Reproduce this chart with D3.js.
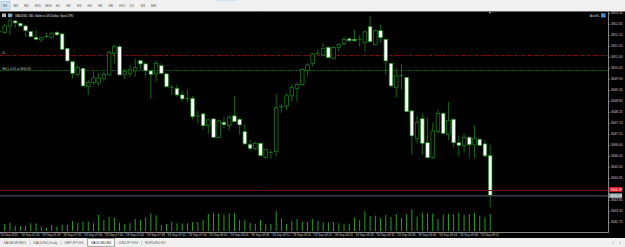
<!DOCTYPE html>
<html><head><meta charset="utf-8">
<script src="https://cdn.jsdelivr.net/npm/d3@7"></script>
<style>
html,body{margin:0;padding:0;background:#000;overflow:hidden;}
svg{display:block;font-family:"Liberation Sans",Arial,sans-serif;}
</style></head><body>
<svg id="c" width="625" height="247"></svg>
<script>
// ---------- DATA ----------
const symbolTitle = "XAUUSD, M1: Gold vs US Dollar, Spot CFD";
const timeframes = ["M1","M3","M5","M15","M30","H1","H2","H3","H4","H6","H8","H12","D1","W1","MN"];
const activeTimeframe = "M1";
const tabs = ["XAUEUR,M15","XAUUSD,Daily","GBPJPY,H1","XAUUSD,M1","USDJPY,H4","EURUSD,H1"];
const activeTab = "XAUUSD,M1";
const times = ["07:19","07:20","07:21","07:22","07:23","07:24","07:25","07:26","07:27","07:28","07:29",
"07:30","07:31","07:32","07:33","07:34","07:35","07:36","07:37","07:38","07:39",
"07:40","07:41","07:42","07:43","07:44","07:45","07:46","07:47","07:48","07:49",
"07:50","07:51","07:52","07:53","07:54","07:55","07:56","07:57","07:58","07:59",
"08:00","08:01","08:02","08:03","08:04","08:05","08:06","08:07","08:08","08:09",
"08:10","08:11","08:12","08:13","08:14","08:15","08:16","08:17","08:18","08:19",
"08:20","08:21","08:22","08:23","08:24","08:25","08:26","08:27","08:28","08:29",
"08:30","08:31","08:32","08:33","08:34","08:35","08:36","08:37","08:38","08:39",
"08:40","08:41","08:42","08:43","08:44","08:45","08:46","08:47","08:48","08:49",
"08:50","08:51","08:52","08:53"];
const opens = [3652.28,3652.23,3652.57,3652.82,3652.70,3652.57,3652.29,3652.00,3651.87,3652.03,
3652.00,3652.25,3652.17,3651.45,3650.78,3650.15,3650.45,3649.53,3649.73,3649.72,
3649.95,3650.12,3651.20,3651.53,3650.15,3650.20,3650.32,3650.83,3650.67,3650.32,
3650.17,3650.58,3650.17,3649.48,3649.45,3649.12,3648.95,3648.95,3648.07,3648.17,
3647.58,3647.92,3646.98,3647.75,3647.58,3648.07,3647.90,3647.28,3646.65,3646.45,
3646.70,3646.00,3646.25,3646.28,3648.53,3648.57,3649.07,3649.45,3649.65,3650.33,
3650.70,3651.20,3651.12,3651.50,3650.95,3651.50,3651.70,3651.92,3651.90,3651.90,
3651.75,3652.53,3651.65,3652.33,3651.90,3650.70,3649.50,3650.10,3650.00,3648.32,
3646.95,3647.93,3646.73,3646.00,3647.28,3648.20,3647.15,3647.90,3646.73,3646.60,
3647.00,3646.62,3646.90,3646.67,3646.08];
const highs = [3652.37,3652.67,3653.00,3652.87,3652.73,3652.59,3652.32,3652.37,3652.03,3652.23,
3652.28,3652.30,3652.19,3651.47,3650.82,3650.62,3650.47,3649.87,3650.32,3650.20,
3650.28,3651.32,3651.62,3651.62,3650.42,3650.62,3650.92,3650.87,3650.70,3650.37,
3650.82,3650.70,3650.20,3649.62,3649.62,3649.33,3649.40,3649.07,3648.32,3648.20,
3647.90,3647.95,3647.87,3648.03,3648.12,3649.07,3647.98,3647.67,3646.87,3646.78,
3646.73,3646.45,3646.37,3649.17,3648.67,3649.20,3649.65,3649.73,3650.45,3650.70,
3651.23,3651.42,3651.70,3651.53,3651.57,3651.70,3652.03,3652.00,3652.37,3652.12,
3652.33,3653.07,3652.37,3652.62,3651.92,3650.73,3650.45,3650.67,3650.02,3648.33,
3648.07,3648.20,3648.00,3647.73,3648.40,3648.27,3648.78,3647.93,3647.08,3647.20,
3647.07,3647.60,3646.97,3646.87,3646.62];
const lows = [3652.22,3652.17,3652.12,3652.47,3652.52,3652.00,3651.99,3651.87,3651.75,3652.00,
3651.95,3652.08,3651.37,3650.77,3649.92,3650.03,3649.53,3649.12,3649.62,3649.57,
3649.82,3650.08,3650.70,3650.08,3649.90,3650.03,3650.03,3650.37,3650.03,3648.95,
3649.78,3650.15,3649.50,3649.12,3649.03,3648.78,3648.78,3647.90,3647.70,3647.37,
3647.17,3646.97,3646.95,3647.45,3647.32,3647.77,3647.12,3646.63,3646.32,3646.37,
3646.03,3645.95,3645.92,3646.03,3648.23,3648.37,3648.78,3648.78,3649.58,3650.07,
3650.53,3651.12,3651.07,3650.95,3650.90,3651.28,3651.57,3651.78,3651.78,3651.53,
3651.28,3651.75,3651.60,3651.75,3650.12,3649.53,3648.97,3649.37,3648.25,3646.15,
3646.70,3646.12,3645.95,3645.92,3647.20,3647.12,3646.87,3646.50,3646.03,3646.23,
3645.95,3645.95,3646.57,3646.00,3643.50];
const closes = [3652.28,3652.57,3652.82,3652.72,3652.57,3652.33,3652.03,3651.90,3651.98,3652.02,
3652.20,3652.12,3651.40,3650.82,3650.20,3650.50,3649.57,3649.73,3649.97,3649.97,
3650.15,3651.25,3651.53,3650.12,3650.28,3650.37,3650.48,3650.67,3650.33,3650.15,
3650.70,3650.20,3649.53,3649.48,3649.12,3648.92,3648.95,3648.03,3648.07,3647.58,
3647.87,3647.00,3647.82,3647.63,3648.00,3647.78,3647.62,3646.67,3646.45,3646.70,
3646.08,3646.40,3646.25,3648.48,3648.53,3649.07,3649.50,3649.65,3650.40,3650.62,
3651.17,3651.20,3651.45,3650.98,3651.50,3651.65,3651.90,3651.83,3651.83,3651.90,
3652.27,3651.78,3652.33,3651.98,3650.82,3649.57,3650.07,3650.10,3648.28,3647.07,
3647.75,3646.70,3645.98,3647.32,3648.20,3647.20,3647.83,3646.73,3646.60,3647.00,
3646.63,3646.95,3646.60,3646.07,3644.08];
const volumes = [70,70,83,53,47,53,77,77,43,30,63,43,63,63,100,83,93,93,77,160,
110,140,133,83,70,77,120,110,137,177,157,60,70,93,77,77,77,90,90,110,
170,180,177,160,177,177,113,110,80,70,110,70,70,200,127,70,100,120,97,90,
120,103,87,87,90,77,67,73,133,110,197,150,153,130,160,140,170,130,167,217,
143,183,177,177,120,163,170,167,183,160,170,180,153,137,170];
const priceTicks = [3653.20,3652.65,3652.10,3651.55,3651.00,3650.45,3649.90,3649.35,3648.80,3648.25,
3647.70,3647.15,3646.60,3646.05,3645.50,3644.95,3644.40,3643.85,3643.30,3642.75];
const timeTickTimes = ["07:20","07:24","07:28","07:32","07:36","07:40","07:44","07:48","07:52","07:56",
"08:00","08:04","08:08","08:12","08:16","08:20","08:24","08:28","08:32","08:36","08:40","08:44","08:48","08:52"];
const dayLabel = "18 Sep";
const firstTimeLabel = "18 Sep 2025";
const askPrice = 3644.39;
const bidPrice = 3644.08;
const slPrice = 3651.12;
const positionPrice = 3650.35;
const slLabel = "SL";
const positionLabel = "SELL 0.04 at 3650.35";
const autoLabel = "AutoSL";

// ---------- LAYOUT ----------
const W = 625, H = 247;
const plotR = 608.5, plotT = 12, plotB = 232.5;
const svg = d3.select("#c");
const fmt = d3.format(".2f");
const crisp = v => Math.round(v) + 0.5;

svg.append("rect").attr("width", W).attr("height", H).attr("fill", "#000");

// top toolbar
svg.append("rect").attr("x",0).attr("y",0).attr("width",W).attr("height",11).attr("fill","#f0f0f0");
svg.append("line").attr("x1",0).attr("x2",W).attr("y1",11.5).attr("y2",11.5).attr("stroke","#6a6a6a").attr("stroke-width",1);
svg.append("rect").attr("x",215).attr("y",0).attr("width",22).attr("height",1.2).attr("fill","#cfe3f5");
const tfX = d3.scalePoint().domain(timeframes).range([3,151]);
svg.append("rect").attr("x",tfX(activeTimeframe)-2).attr("y",1.5).attr("width",9).attr("height",8)
  .attr("fill","#cce4f7").attr("stroke","#8fb8de").attr("stroke-width",0.6);
svg.append("g").selectAll("text").data(timeframes).join("text")
  .attr("x", d => tfX(d)).attr("y", 7.2).attr("font-size", 3.3).attr("fill", "#505050").text(d => d);

// chart scales
const x = d3.scalePoint().domain(times).range([-0.5, -0.5 + 5.22 * (times.length - 1)]);
const y = d3.scaleLinear().domain([3642.265, 3653.265]).range([232, 12]);
const vy = d3.scaleLinear().domain([0, 100]).range([231, 221]);

// title
svg.append("rect").attr("x",2).attr("y",13.6).attr("width",4).attr("height",3.4).attr("fill","#b8b8b8");
svg.append("rect").attr("x",8).attr("y",13.6).attr("width",4.2).attr("height",3.4).attr("fill","#8aa4c8");
svg.append("text").attr("x",15).attr("y",16.6).attr("font-size",3).attr("fill","#e0e0e0").text(symbolTitle);

// auto label + icon
svg.append("text").attr("x",599.5).attr("y",16.6).attr("font-size",3).attr("fill","#d0d0d0").attr("text-anchor","end").text(autoLabel);
svg.append("rect").attr("x",601).attr("y",13.4).attr("width",4.5).attr("height",4).attr("fill","#4a90d9");

// chart shift marker
svg.append("path").attr("d", "M488.5,12 L491.5,12 L490,13.8 Z").attr("fill","#9a9a9a");

// SL line and position line
svg.append("line").attr("x1",0).attr("x2",plotR).attr("y1",crisp(y(slPrice))).attr("y2",crisp(y(slPrice)))
  .attr("stroke","#8a1010").attr("stroke-width",1).attr("stroke-dasharray","3,1.3,1,1.3");
svg.append("text").attr("x",2).attr("y",y(slPrice)-1.2).attr("font-size",3).attr("fill","#a8a8a8").text(slLabel);
svg.append("line").attr("x1",0).attr("x2",plotR).attr("y1",crisp(y(positionPrice))).attr("y2",crisp(y(positionPrice)))
  .attr("stroke","#197a19").attr("stroke-width",1).attr("stroke-dasharray","0.8,0.8");
svg.append("text").attr("x",2).attr("y",y(positionPrice)-0.8).attr("font-size",3).attr("fill","#c0c0c0").text(positionLabel);

// volumes
const vols = times.map((t,i) => ({t, v: volumes[i]}));
svg.append("g").selectAll("rect").data(vols).join("rect")
  .attr("x", d => x(d.t) - 0.45).attr("width", 0.9)
  .attr("y", d => vy(d.v)).attr("height", d => vy(0) - vy(d.v))
  .attr("fill", "#26b326");

// candles
const candles = times.map((t,i) => ({t, o: opens[i], h: highs[i], l: lows[i], c: closes[i]}));
const cg = svg.append("g");
cg.selectAll("line").data(candles).join("line")
  .attr("x1", d => x(d.t)).attr("x2", d => x(d.t))
  .attr("y1", d => y(d.h)).attr("y2", d => y(d.l))
  .attr("stroke", "#158515").attr("stroke-width", 0.8);
const bw = 3.6;
cg.selectAll("rect").data(candles).join("rect")
  .attr("x", d => x(d.t) - bw/2).attr("width", bw)
  .attr("y", d => Math.min(y(d.o), y(d.c)))
  .attr("height", d => Math.max(Math.abs(y(d.o) - y(d.c)), 0.01))
  .attr("fill", d => d.c < d.o ? "#ffffff" : "#000000")
  .attr("stroke", "#178c17").attr("stroke-width", 0.7);

// ask / bid lines
svg.append("line").attr("x1",0).attr("x2",plotR).attr("y1",crisp(y(askPrice))).attr("y2",crisp(y(askPrice)))
  .attr("stroke","#741313").attr("stroke-width",1);
svg.append("line").attr("x1",0).attr("x2",plotR).attr("y1",y(bidPrice)).attr("y2",y(bidPrice))
  .attr("stroke","#363c44").attr("stroke-width",1.5);

// price axis
svg.append("line").attr("x1",plotR).attr("x2",plotR).attr("y1",plotT).attr("y2",plotB)
  .attr("stroke","#a8a8a8").attr("stroke-width",0.8);
const pa = svg.append("g");
pa.selectAll("line").data(priceTicks).join("line")
  .attr("x1",plotR).attr("x2",plotR+1.8).attr("y1",d=>y(d)).attr("y2",d=>y(d))
  .attr("stroke","#a8a8a8").attr("stroke-width",0.6);
pa.selectAll("text").data(priceTicks).join("text")
  .attr("x",611).attr("y",d=>y(d)).attr("dy","0.35em").attr("font-size",3.2).attr("fill","#c8c8c8").text(d=>fmt(d));

// ask / bid labels
function priceTag(p, bg, fg){
  svg.append("rect").attr("x",608.8).attr("y",y(p)-2.4).attr("width",13.2).attr("height",4.8).attr("fill",bg);
  svg.append("text").attr("x",610.5).attr("y",y(p)).attr("dy","0.35em").attr("font-size",3.2).attr("fill",fg).text(fmt(p));
}
priceTag(askPrice, "#e01010", "#ffffff");
priceTag(bidPrice, "#8e949a", "#ffffff");

// time axis
svg.append("line").attr("x1",0).attr("x2",plotR).attr("y1",plotB).attr("y2",plotB)
  .attr("stroke","#a8a8a8").attr("stroke-width",0.8);
const ta = svg.append("g");
ta.selectAll("line").data(timeTickTimes).join("line")
  .attr("x1",d=>x(d)-4.2).attr("x2",d=>x(d)-4.2).attr("y1",plotB).attr("y2",plotB+1.4)
  .attr("stroke","#a8a8a8").attr("stroke-width",0.5);
ta.selectAll("text").data(timeTickTimes).join("text")
  .attr("x",d=>x(d)-3.9).attr("y",236).attr("font-size",3).attr("fill","#c8c8c8")
  .text((d,i)=> i===0 ? firstTimeLabel : dayLabel + " " + d);

// bottom tabs
svg.append("rect").attr("x",0).attr("y",238).attr("width",W).attr("height",9).attr("fill","#f0f0f0");
const tg = svg.append("g");
let tx = 0;
tabs.forEach((t,i) => {
  const txt = tg.append("text").attr("x", tx + 3.4).attr("y", 244.2).attr("font-size",3.6)
    .attr("fill", t===activeTab ? "#202020" : "#606060").text(t);
  const len = txt.node().getComputedTextLength();
  const w = len + 7;
  if (t === activeTab) {
    tg.insert("rect","text").attr("x",tx+0.5).attr("y",238.6).attr("width",w-1).attr("height",7.6)
      .attr("fill","#ffffff").attr("stroke","#7a7a7a").attr("stroke-width",0.7);
  } else if (i < tabs.length - 1 && tabs[i+1] !== activeTab) {
    tg.append("line").attr("x1",tx+w).attr("x2",tx+w).attr("y1",240.5).attr("y2",245)
      .attr("stroke","#b0b0b0").attr("stroke-width",0.5);
  }
  tx += w;
});
svg.append("path").attr("d","M614,241.5 L612.5,242.8 L614,244.1").attr("fill","none").attr("stroke","#9a9a9a").attr("stroke-width",0.5);
svg.append("path").attr("d","M619.5,241.5 L621,242.8 L619.5,244.1").attr("fill","none").attr("stroke","#9a9a9a").attr("stroke-width",0.5);
</script>
</body></html>
